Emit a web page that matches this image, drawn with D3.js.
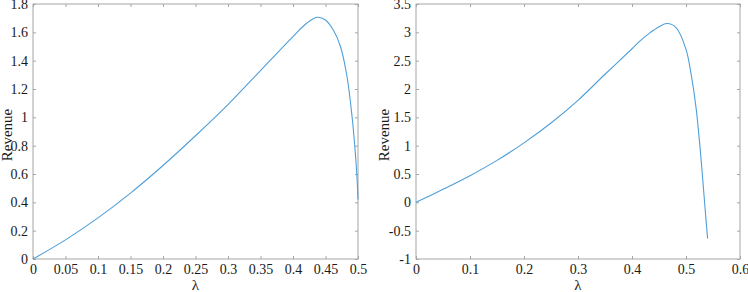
<!DOCTYPE html>
<head>
    <meta charset="utf-8">
    <style>
        body { margin: 0; background: #fff; }
    </style>
    <script src="https://d3js.org/d3.v7.min.js"></script>
</head>
<body>
<div id="chart"></div>
<script>

// left panel: lambda vs revenue
var lamA = [0, 0.05, 0.1, 0.15, 0.2, 0.25, 0.3, 0.35, 0.4, 0.421, 0.437, 0.45, 0.462, 0.473, 0.483, 0.491, 0.495, 0.498, 0.5];
var revA = [0, 0.135, 0.29, 0.465, 0.66, 0.87, 1.09, 1.33, 1.57, 1.664, 1.706, 1.687, 1.616, 1.50, 1.29, 1.00, 0.80, 0.61, 0.42];

// right panel
var lamB = [0, 0.05, 0.1, 0.15, 0.2, 0.25, 0.3, 0.35, 0.4, 0.415, 0.433, 0.45, 0.465, 0.482, 0.5, 0.51, 0.519, 0.529, 0.535, 0.54];
var revB = [0, 0.23, 0.47, 0.74, 1.05, 1.40, 1.80, 2.26, 2.71, 2.85, 2.99, 3.10, 3.155, 3.08, 2.70, 2.23, 1.64, 0.64, -0.07, -0.64];

var xTicksA = [0, 0.05, 0.1, 0.15, 0.2, 0.25, 0.3, 0.35, 0.4, 0.45, 0.5];
var yTicksA = [0, 0.2, 0.4, 0.6, 0.8, 1, 1.2, 1.4, 1.6, 1.8];
var xTicksB = [0, 0.1, 0.2, 0.3, 0.4, 0.5, 0.6];
var yTicksB = [-1, -0.5, 0, 0.5, 1, 1.5, 2, 2.5, 3, 3.5];

var W = 748, H = 292;
var boxCol = "#a6a6a6", lineCol = "#4f9fd9", txtCol = "#1a1a1a";
var font = "'Times New Roman', 'Liberation Serif', serif";

var svg = d3.select("#chart").append("svg")
    .attr("width", W)
    .attr("height", H)
    .attr("font-family", font);

function panel(x0, x1, xDom, yDom, xt, yt, lam, rev, ylabX) {
    var top = 4, bottom = 259;
    var x = d3.scaleLinear().domain(xDom).range([x0, x1]);
    var y = d3.scaleLinear().domain(yDom).range([bottom, top]);
    var fmt = d => String(d);

    var g = svg.append("g");

    g.append("rect")
        .attr("x", x0).attr("y", top)
        .attr("width", x1 - x0).attr("height", bottom - top)
        .attr("fill", "none").attr("stroke", boxCol).attr("stroke-width", 1);

    // bottom / top
    g.append("g").attr("transform", "translate(0," + bottom + ")")
        .call(d3.axisBottom(x).tickValues(xt).tickSize(-3).tickPadding(5).tickFormat(fmt))
        .call(a => a.select(".domain").remove());
    g.append("g").attr("transform", "translate(0," + top + ")")
        .call(d3.axisTop(x).tickValues(xt).tickSize(-3).tickFormat(""))
        .call(a => a.select(".domain").remove());

    // left / right
    g.append("g").attr("transform", "translate(" + x0 + ",0)")
        .call(d3.axisLeft(y).tickValues(yt).tickSize(-3).tickPadding(5).tickFormat(fmt))
        .call(a => a.select(".domain").remove());
    g.append("g").attr("transform", "translate(" + x1 + ",0)")
        .call(d3.axisRight(y).tickValues(yt).tickSize(-3).tickFormat(""))
        .call(a => a.select(".domain").remove());

    g.selectAll(".tick line").attr("stroke", boxCol);
    g.selectAll(".tick text")
        .attr("font-family", font)
        .attr("font-size", 14)
        .attr("fill", txtCol);

    var pts = lam.map((l, i) => [l, rev[i]]);
    g.append("path")
        .datum(pts)
        .attr("fill", "none")
        .attr("stroke", lineCol)
        .attr("stroke-width", 1.1)
        .attr("d", d3.line()
            .curve(d3.curveCatmullRom.alpha(0.5))
            .x(d => x(d[0]))
            .y(d => y(d[1])));

    g.append("text")
        .attr("font-size", 15).attr("fill", txtCol)
        .attr("x", (x0 + x1) / 2).attr("y", 290)
        .attr("text-anchor", "middle")
        .text("λ");

    g.append("text")
        .attr("font-size", 15).attr("fill", txtCol)
        .attr("transform", "translate(" + ylabX + ",135) rotate(-90)")
        .attr("text-anchor", "middle")
        .text("Revenue");
}

panel(33, 358, [0, 0.5], [0, 1.8], xTicksA, yTicksA, lamA, revA, 12);
panel(416, 740, [0, 0.6], [-1, 3.5], xTicksB, yTicksB, lamB, revB, 389);

</script>
</body>
